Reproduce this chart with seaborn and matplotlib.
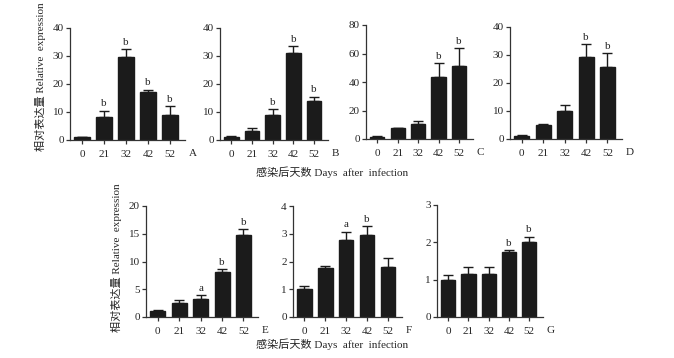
import matplotlib
matplotlib.use("Agg")
import matplotlib.pyplot as plt
import seaborn as sns
import pandas as pd
import numpy as np

days = ["0", "21", "32", "42", "52"]

a_vals = [1.0, 8.2, 29.5, 17.3, 9.0]
a_errs = [0.2, 2.3, 3.0, 0.7, 3.0]
a_sig = ["", "b", "b", "b", "b"]

b_vals = [1.2, 3.2, 9.0, 31.0, 14.0]
b_errs = [0.2, 1.0, 2.0, 2.5, 1.5]
b_sig = ["", "", "b", "b", "b"]

c_vals = [1.5, 7.5, 10.5, 43.5, 51.0]
c_errs = [0.5, 0.5, 2.0, 9.5, 13.0]
c_sig = ["", "", "", "b", "b"]

d_vals = [1.2, 5.0, 10.0, 29.3, 25.8]
d_errs = [0.2, 0.5, 2.0, 4.7, 5.0]
d_sig = ["", "", "", "b", "b"]

e_vals = [1.1, 2.5, 3.3, 8.1, 14.7]
e_errs = [0.1, 0.5, 0.6, 0.5, 1.1]
e_sig = ["", "", "a", "b", "b"]

f_vals = [1.0, 1.75, 2.78, 2.97, 1.8]
f_errs = [0.12, 0.1, 0.3, 0.3, 0.33]
f_sig = ["", "", "a", "b", ""]

g_vals = [1.0, 1.15, 1.15, 1.73, 2.02]
g_errs = [0.12, 0.2, 0.2, 0.07, 0.13]
g_sig = ["", "", "", "b", "b"]

panels = [
    ("A", a_vals, a_errs, a_sig, [0, 10, 20, 30, 40]),
    ("B", b_vals, b_errs, b_sig, [0, 10, 20, 30, 40]),
    ("C", c_vals, c_errs, c_sig, [0, 20, 40, 60, 80]),
    ("D", d_vals, d_errs, d_sig, [0, 10, 20, 30, 40]),
    ("E", e_vals, e_errs, e_sig, [0, 5, 10, 15, 20]),
    ("F", f_vals, f_errs, f_sig, [0, 1, 2, 3, 4]),
    ("G", g_vals, g_errs, g_sig, [0, 1, 2, 3]),
]

# pixel boxes: left, right, top, bottom
boxes = {
    "A": (70, 185, 28, 140),
    "B": (220, 328, 28, 140),
    "C": (366, 473, 25, 139),
    "D": (510, 622, 27, 139),
    "E": (146, 258, 206, 317),
    "F": (293, 402, 206, 317),
    "G": (437, 543, 205, 317),
}

sns.set_theme(style="ticks")
SERIF = ["Liberation Serif", "Noto Sans CJK SC", "DejaVu Sans"]
plt.rcParams["font.family"] = SERIF

W, H = 674, 358
fig = plt.figure(figsize=(W / 100, H / 100), dpi=100)
fig.patch.set_facecolor("white")

FS = 8
for name, vals, errs, sig, yticks in panels:
    l, r, t, b = boxes[name]
    ax = fig.add_axes([l / W, 1 - b / H, (r - l) / W, (b - t) / H])
    df = pd.DataFrame({"day": days, "value": vals})
    sns.barplot(data=df, x="day", y="value", color="#1b1b1b", width=0.7,
                errorbar=None, saturation=1, ax=ax, edgecolor="#1b1b1b")
    ax.errorbar(np.arange(len(days)), vals, yerr=[np.zeros(len(errs)), errs],
                fmt="none", ecolor="#1b1b1b", elinewidth=1.0, capsize=3.5, capthick=1.0)
    top = yticks[-1]
    for i, s in enumerate(sig):
        if s:
            ax.text(i, vals[i] + errs[i] + top * 0.02, s, ha="center", va="bottom",
                    fontsize=FS, family=SERIF)
    ax.set_ylim(0, top)
    ax.set_xlim(-0.55, 4.68)
    ax.set_yticks(yticks)
    ax.set_xlabel("")
    ax.set_ylabel("")
    ax.set_facecolor("white")
    sns.despine(ax=ax)
    for sp in ["left", "bottom"]:
        ax.spines[sp].set_linewidth(0.9)
        ax.spines[sp].set_color("#333333")
    ax.tick_params(axis="both", labelsize=FS, length=3, width=0.9, pad=1.5, color="#333333")
    ax.tick_params(axis="x", pad=4)
    for lab in ax.get_xticklabels() + ax.get_yticklabels():
        lab.set_family(SERIF)
    ax.text(1.03, -0.08, name, transform=ax.transAxes, ha="left", va="top",
            fontsize=FS, family=SERIF)

ylab = "相对表达量 Relative  expression"
xlab = "感染后天数 Days  after  infection"
fig.text(41 / W, 1 - 77 / H, ylab, rotation=90, ha="center", va="center", fontsize=FS, family=SERIF)
fig.text(117 / W, 1 - 258 / H, ylab, rotation=90, ha="center", va="center", fontsize=FS, family=SERIF)
fig.text(332 / W, 1 - 172 / H, xlab, ha="center", va="center", fontsize=FS, family=SERIF)
fig.text(332 / W, 1 - 344 / H, xlab, ha="center", va="center", fontsize=FS, family=SERIF)

fig.savefig("out.png", dpi=100, facecolor="white")
